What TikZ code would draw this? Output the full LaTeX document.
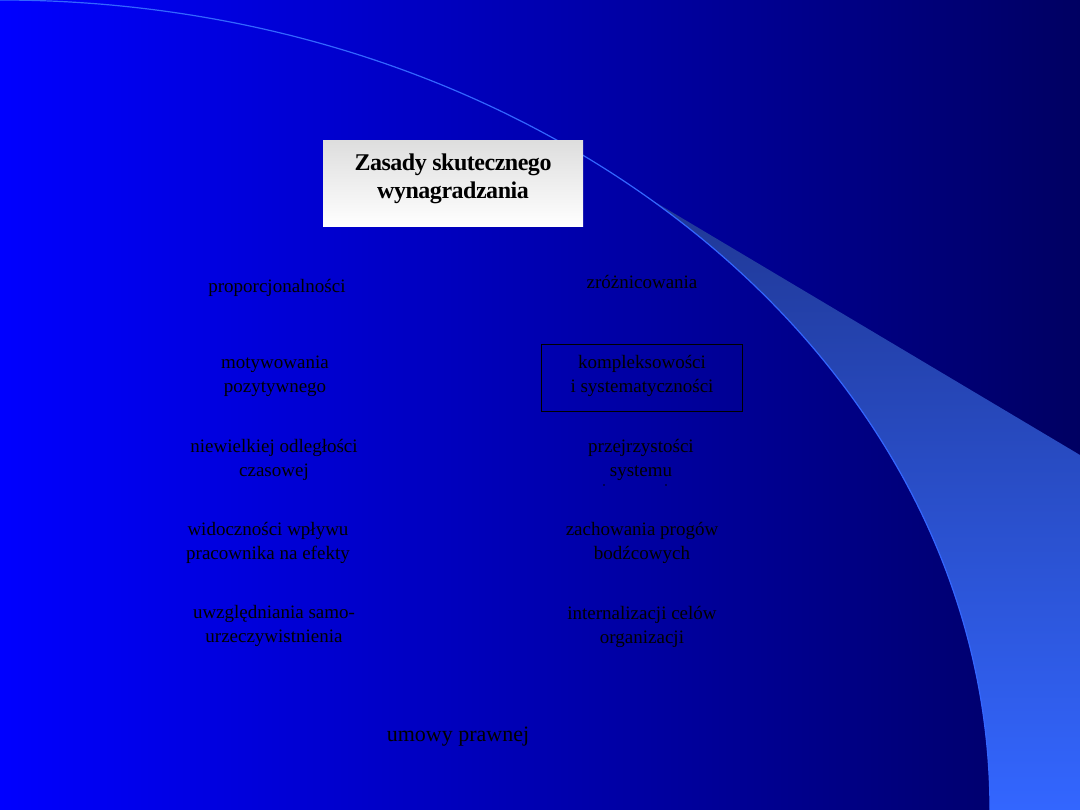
\documentclass[tikz,border=0pt]{standalone}
\usepackage{fontspec}
\setmainfont{Liberation Serif}
\usepackage{tikz}
\usetikzlibrary{positioning,calc}
\usepackage{xcolor}
\definecolor{bgleft}{RGB}{0,0,255}
\definecolor{bgright}{RGB}{0,0,98}
\definecolor{swoosh}{RGB}{51,102,255}
\definecolor{swooshtop}{RGB}{32,56,150}
\definecolor{boxtop}{RGB}{222,222,222}

\begin{document}
\begin{tikzpicture}[x=1pt, y=-1pt,
    item/.style={align=center, text=black, inner sep=0pt, font=\fontsize{19}{24}\selectfont},
    titlebox/.style={top color=boxtop, bottom color=white, minimum width=260pt, minimum height=86pt, inner sep=0pt},
    framebox/.style={draw=black, line width=0.8pt, minimum width=201pt, minimum height=67pt, inner sep=0pt}]
    \useasboundingbox (0,0) rectangle (1080,810);
    % Background
    \shade[left color=bgleft, right color=bgright] (0,0) rectangle (1080,810);
    % Swoosh
    \shade[top color=swooshtop, bottom color=swoosh] (1080,810) -- (990,810)
        arc[start angle=0, end angle=-48.96, x radius=990, y radius=810] -- (1080,455) -- cycle;
    \draw[swoosh, line width=1.2pt] (990,810) arc[start angle=0, end angle=-90, x radius=990, y radius=810];

    % Title
    \node[titlebox] (title) at (453,184) {};
    \node[align=center, inner sep=0pt, font=\fontsize{24}{28}\selectfont\bfseries\addfontfeature{LetterSpace=-2}] (titletext) at ([yshift=5pt]title.center) {Zasady skutecznego\\wynagradzania};

    % Left column
    \node[item] (prop) at (277,288) {proporcjonalności};
    \node[item] (motyw) at (275,376) {motywowania\\pozytywnego};
    \node[item] (czas) at (274,460) {niewielkiej odległości\\czasowej};
    \node[item] (wplyw) at (268,543) {widoczności wpływu\\pracownika na efekty};
    \node[item] (samo) at (274,626) {uwzględniania samo-\\urzeczywistnienia};

    % Right column
    \node[item] (zroz) at (642,282) {zróżnicowania};
    \node[framebox] (kompbox) at (641.5,377.5) {};
    \node[item] (komp) at (642,376) {kompleksowości\\i systematyczności};
    \node[item] (przej) at (641,460) {przejrzystości\\systemu};
    \fill[black] (604,485) circle (0.8) (666,485) circle (0.8);
    \node[item] (progi) at (642,543) {zachowania progów\\bodźcowych};
    \node[item] (intern) at (642,627) {internalizacji celów\\organizacji};

    % Bottom
    \node[item, font=\fontsize{22}{26}\selectfont] (umowa) at (458,737) {umowy prawnej};
\end{tikzpicture}
\end{document}
